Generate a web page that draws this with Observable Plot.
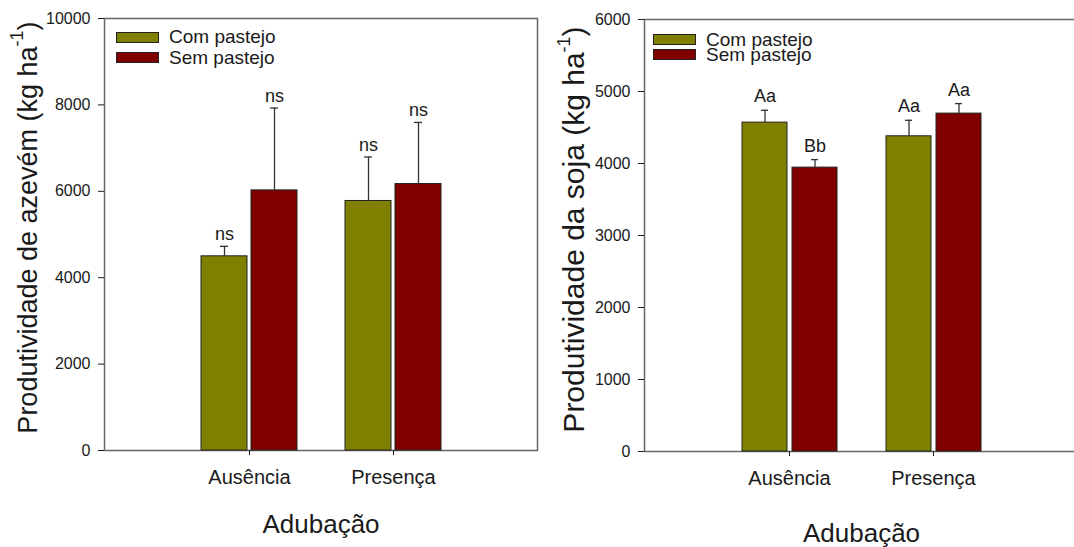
<!DOCTYPE html>
<html>
<head>
<meta charset="utf-8">
<script src="https://cdn.jsdelivr.net/npm/d3@7"></script>
<script src="https://cdn.jsdelivr.net/npm/@observablehq/plot@0.6"></script>
<style>
html, body { margin: 0; padding: 0; background: #fff; overflow: hidden; width: 1074px; height: 547px; }
#wrap { display: flex; width: 1078px; height: 547px; }
.panel { position: relative; height: 547px; flex: none; }
.panel svg { position: absolute; left: 0; top: 0; }
.legend { position: absolute; font-family: "Liberation Sans", Arial, sans-serif; color: #1a1a1a; font-size: 19px; }
.legend .row { display: flex; align-items: center; white-space: nowrap; }
.legend .sw { display: inline-block; width: 41px; height: 9px; border: 1px solid #222; margin-right: 10px; }
g[aria-label="x-axis label"] text { font-size: 26px; }
</style>
</head>
<body>
<div id="wrap"></div>
<script>
// ---- data ----
const adubacao = ["Ausência", "Presença"];
const series = ["Com pastejo", "Sem pastejo"];
const colors = ["#808000", "#800000"];

// Produtividade de azevém (kg ha-1)
const azevemCom = [4495, 5776];
const azevemComErr = [231, 1018];
const azevemSem = [6021, 6169];
const azevemSemErr = [1906, 1425];
const azevemComLabels = ["ns", "ns"];
const azevemSemLabels = ["ns", "ns"];
const azevemTicks = [0, 2000, 4000, 6000, 8000, 10000];

// Produtividade da soja (kg ha-1)
const sojaCom = [4568, 4378];
const sojaComErr = [171, 222];
const sojaSem = [3943, 4693];
const sojaSemErr = [111, 139];
const sojaComLabels = ["Aa", "Aa"];
const sojaSemLabels = ["Bb", "Aa"];
const sojaTicks = [0, 1000, 2000, 3000, 4000, 5000, 6000];

function makeRows(com, comErr, sem, semErr, comLab, semLab) {
  const rows = [];
  adubacao.forEach((a, i) => {
    rows.push({adub: a, serie: series[0], v: com[i], hi: com[i] + comErr[i], label: comLab[i]});
    rows.push({adub: a, serie: series[1], v: sem[i], hi: sem[i] + semErr[i], label: semLab[i]});
  });
  return rows;
}

const FONT = '"Liberation Sans", Arial, sans-serif';
const groupScale = {type: "band", domain: adubacao, paddingInner: 0.335, paddingOuter: 0.6675};

// Layer 1: frame and axes (x band scale over the groups)
function axesLayer(o) {
  const svg = Plot.plot({
    width: o.width, height: 547,
    marginLeft: o.marginLeft, marginRight: o.marginRight, marginTop: o.marginTop, marginBottom: o.marginBottom,
    style: {fontFamily: FONT, color: "#1a1a1a", background: "transparent", overflow: "visible"},
    x: {...groupScale},
    y: {domain: o.yDomain},
    marks: [
      Plot.frame({stroke: "#666", strokeWidth: 1.5}),
      Plot.axisY({ticks: o.yTicks, tickFormat: "d", tickSize: 6, tickPadding: 8, fontSize: 16,
        label: o.yLabel, labelAnchor: "center", labelOffset: o.yLabelOffset}),
      Plot.axisX({anchor: "bottom", tickSize: 5, tickPadding: 14, fontSize: 20,
        label: "Adubação", labelAnchor: "center", labelOffset: o.xLabelOffset})
    ]
  });
  const t = svg.querySelector('g[aria-label="y-axis label"] text');
  if (t) {
    const full = t.textContent;
    const idx = full.lastIndexOf("-1)");
    if (idx >= 0) {
      const NS = "http://www.w3.org/2000/svg";
      t.textContent = "";
      const a = document.createElementNS(NS, "tspan"); a.textContent = full.slice(0, idx);
      const b = document.createElementNS(NS, "tspan"); b.textContent = "-1";
      b.setAttribute("font-size", "18px"); b.setAttribute("dy", "-14px");
      const c = document.createElementNS(NS, "tspan"); c.textContent = ")";
      c.setAttribute("dy", "14px");
      t.append(a, b, c);
    }
    t.style.fontSize = o.yLabelSize + "px";
    const tr = t.getAttribute("transform");
    if (tr && /rotate/.test(tr)) t.setAttribute("transform", tr + ` translate(${o.yLabelShift},0)`);
  }
  return svg;
}

// Layer 2: grouped bars, error bars and letters (faceted by group)
function barsLayer(o) {
  return Plot.plot({
    width: o.width, height: 547,
    marginLeft: o.marginLeft, marginRight: o.marginRight, marginTop: o.marginTop, marginBottom: o.marginBottom,
    style: {fontFamily: FONT, color: "#1a1a1a", background: "transparent", overflow: "visible"},
    fx: {...groupScale, axis: null},
    x: {domain: series, paddingInner: o.xPad, paddingOuter: 0, axis: null},
    y: {domain: o.yDomain, axis: null},
    color: {domain: series, range: colors},
    marks: [
      Plot.barY(o.rows, {fx: "adub", x: "serie", y: "v", fill: "serie", stroke: "#222", strokeWidth: 1}),
      Plot.ruleX(o.rows, {fx: "adub", x: "serie", y1: "v", y2: "hi", stroke: "#333", strokeWidth: 1.3}),
      Plot.tickY(o.rows, {fx: "adub", x: "serie", y: "hi", insetLeft: o.capInset, insetRight: o.capInset, stroke: "#333", strokeWidth: 1.3}),
      Plot.text(o.rows, {fx: "adub", x: "serie", y: "hi", text: "label", lineAnchor: "bottom", dy: o.labelDy, fontSize: 18, fill: "#1a1a1a"})
    ]
  });
}

function legend(o) {
  const div = document.createElement("div");
  div.className = "legend";
  div.style.left = o.left + "px";
  div.style.top = o.top + "px";
  div.style.lineHeight = o.lineHeight + "px";
  series.forEach((s, i) => {
    const row = document.createElement("div");
    row.className = "row";
    const sw = document.createElement("span");
    sw.className = "sw";
    sw.style.background = colors[i];
    const tx = document.createElement("span");
    tx.textContent = s;
    row.append(sw, tx);
    div.append(row);
  });
  return div;
}

function panel(o, leg) {
  const div = document.createElement("div");
  div.className = "panel";
  div.style.width = o.width + "px";
  div.append(axesLayer(o), barsLayer(o), legend(leg));
  return div;
}

const wrap = document.getElementById("wrap");

wrap.append(
  panel({
    rows: makeRows(azevemCom, azevemComErr, azevemSem, azevemSemErr, azevemComLabels, azevemSemLabels),
    width: 560, marginLeft: 104, marginRight: 23, marginTop: 18, marginBottom: 97,
    xPad: 0.09, capInset: 19, labelDy: -6,
    yDomain: [0, 10000], yTicks: azevemTicks,
    yLabel: "Produtividade de azevém (kg ha-1)", yLabelOffset: 87, yLabelSize: 27, yLabelShift: 7,
    xLabelOffset: 82
  }, {left: 116, top: 27, lineHeight: 20.5}),
  panel({
    rows: makeRows(sojaCom, sojaComErr, sojaSem, sojaSemErr, sojaComLabels, sojaSemLabels),
    width: 518, marginLeft: 84, marginRight: 0, marginTop: 19, marginBottom: 96,
    xPad: 0.1, capInset: 19, labelDy: -8,
    yDomain: [0, 6000], yTicks: sojaTicks,
    yLabel: "Produtividade da soja (kg ha-1)", yLabelOffset: 82, yLabelSize: 30, yLabelShift: 6,
    xLabelOffset: 90
  }, {left: 93, top: 32, lineHeight: 15})
);
</script>
</body>
</html>
